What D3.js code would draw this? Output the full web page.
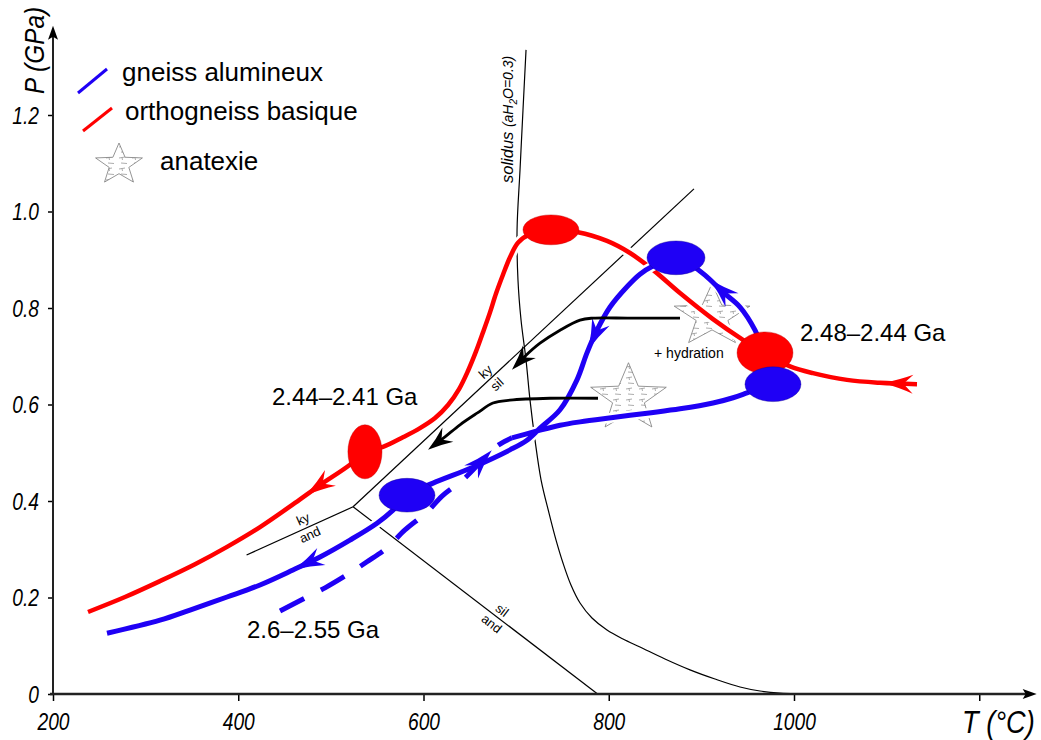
<!DOCTYPE html>
<html><head><meta charset="utf-8">
<script src="https://cdn.jsdelivr.net/npm/d3@7"></script>
<style>
body{margin:0;background:#fff;}
svg{display:block;font-family:"Liberation Sans",Arial,sans-serif;}
</style></head><body>
<svg id="chart" width="1041" height="740"></svg>
<script>
// ---------- data ----------
const xTicks = [200, 400, 600, 800, 1000, 1200];
const xTickLabels = ["200", "400", "600", "800", "1000", ""];
const yTicks = [0, 0.2, 0.4, 0.6, 0.8, 1.0, 1.2];
const yTickLabels = ["0", "0.2", "0.4", "0.6", "0.8", "1.0", "1.2"];
const tMax = 1262, pMax = 1.385;

// solidus (aH2O = 0.3)
const solidus = [[710.7,1.335],[707.4,1.210],[704.2,1.086],[701.0,0.962],[702.0,0.858],[705.3,0.775],
  [710.7,0.692],[715.0,0.609],[720.4,0.526],[726.9,0.444],[735.5,0.375],[743.1,0.319],[750.6,0.2715],
  [759.2,0.2259],[769.0,0.1886],[781.9,0.1575],[798.1,0.1326],[815.4,0.1140],[833.7,0.0974],[860.7,0.0725],
  [887.7,0.050],[914.7,0.031],[941.7,0.0145],[963.3,0.0062],[984.9,0.0021],[1028,0]];

// Al2SiO5 reactions from the triple point
const kySil = [[524,0.388],[892,1.047]];
const kyAnd = [[409,0.288],[524,0.388]];
const silAnd = [[524,0.388],[788,0]];

// orthogneiss basique (red) P-T path, in travel order
const redPath = [[1132.8,0.642],[1092.8,0.645],[1057.2,0.651],[1020.5,0.665],[995.7,0.679],[968.7,0.706],
  [944.9,0.734],[912.5,0.777],[876.9,0.831],[847.8,0.879],[823.0,0.914],[798.1,0.939],[766.8,0.957],
  [737.6,0.961],[715.0,0.953],[702.0,0.935],[693.4,0.905],[685.8,0.869],[678.3,0.830],[671.8,0.791],
  [664.3,0.750],[656.7,0.710],[648.1,0.670],[638.4,0.632],[626.5,0.599],[612.5,0.572],[596.2,0.551],
  [577.8,0.532],[556.3,0.512],[536.8,0.502],[520.6,0.475],[488.3,0.433],[461.3,0.396],[423.5,0.346],
  [387.9,0.305],[353.3,0.269],[315.5,0.234],[277.7,0.201],[237.8,0.170]];
const redArrowTips = [[1096,0.645],[474,0.41]];

// gneiss alumineux (blue): early dashed segment, then solid path
const blueDashed = [[445.1,0.172],[472.1,0.199],[493.7,0.220],[517.4,0.247],[539.0,0.274],[560.6,0.303],
  [580.0,0.340],[603.8,0.377],[620.0,0.410],[642.6,0.444],[658.8,0.475],[671.8,0.502],[682.6,0.518],[695.5,0.531]];
const blueSolid = [[695.5,0.531],[722.5,0.545],[747.4,0.557],[769.0,0.564],[804.6,0.573],[841.4,0.582],
  [877.0,0.591],[912.6,0.603],[934.2,0.614],[949.3,0.624],[965.4,0.635],[977.3,0.642],[971.9,0.676],
  [965.4,0.717],[957.9,0.754],[941.7,0.802],[923.3,0.833],[903.9,0.868],[887.7,0.891],[872.6,0.904],
  [847.8,0.887],[833.7,0.870],[819.7,0.844],[801.4,0.802],[787.3,0.754],[776.5,0.707],[765.7,0.651],
  [747.4,0.589],[725.8,0.551],[711.7,0.526],[693.4,0.506],[653.4,0.470],[610.3,0.437],[582.2,0.412],
  [567.1,0.381],[549.8,0.354],[520.6,0.319],[488.3,0.284],[459.1,0.257],[423.5,0.226],[387.9,0.201],
  [347.9,0.174],[315.5,0.153],[258.3,0.126]];
const blueDashedArrowTips = [[671.8,0.51]];
const blueArrowTips = [[909,0.858],[779.8,0.713],[459.1,0.263]];

// P-T estimates (centre T, centre P, half-width T, half-width P)
const redEllipses = [[737.6,0.962,30.2,0.031],[968.7,0.707,30.2,0.0435],[536.8,0.502,18.4,0.056]];
const blueEllipses = [[872.6,0.904,31.3,0.035],[977.3,0.642,30.2,0.036],[582.2,0.412,30.2,0.035]];

// retrograde hydration arrows (black)
const hydrArrow1 = [[876.9,0.779],[822.9,0.779],[783.0,0.779],[769.0,0.775],[747.4,0.754],[725.8,0.727],[709.6,0.700],[695.5,0.672]];
const hydrArrow2 = [[788.4,0.613],[736.6,0.613],[693.4,0.609],[675.0,0.603],[657.8,0.582],[639.4,0.558],[623.2,0.533],[604.9,0.506]];

// anatexis stars (centre T, P)
const stars = [[911.5,0.783],[821.3,0.613]];

// labels
const ageLabels = [["2.48–2.44 Ga",1006.5,0.7316],["2.44–2.41 Ga",436.4,0.599],["2.6–2.55 Ga",409.4,0.116]];
const hydrationLabel = ["+ hydration",848.9,0.696];
const solidusLabelPos = [702.0,1.059];
const legendItems = ["gneiss alumineux","orthogneiss basique","anatexie"];

// ---------- drawing ----------
const RED = "#ff0000", BLUE = "#1f00f5";
const svg = d3.select("#chart");
const x = d3.scaleLinear().domain([200,1000]).range([53,794]);
const y = d3.scaleLinear().domain([0,1.2]).range([694,115]);
const line = d3.line().x(d=>x(d[0])).y(d=>y(d[1])).curve(d3.curveCatmullRom.alpha(0.5));
const straight = d3.line().x(d=>x(d[0])).y(d=>y(d[1]));

// hatch pattern for stars
const defs = svg.append("defs");
const pat = defs.append("pattern").attr("id","hatch").attr("patternUnits","userSpaceOnUse")
  .attr("width",13).attr("height",11);
pat.append("path").attr("d","M2,4 L8,3 M5,3.5 L5.5,6 M4,9 L10,9.5").attr("stroke","#8a8a8a").attr("stroke-width",0.7).attr("fill","none");

function starPath(cx, cy, R, sx) {
  const pts = [];
  for (let i=0;i<10;i++){
    const r = i%2===0 ? R : R*0.42;
    const a = -Math.PI/2 + i*Math.PI/5;
    pts.push([cx + sx*r*Math.cos(a), cy + r*Math.sin(a)]);
  }
  return "M" + pts.map(p=>p.join(",")).join("L") + "Z";
}

// stars (behind)
const gStars = svg.append("g");
stars.forEach((s,i)=>{
  gStars.append("path").attr("d", starPath(x(s[0]), y(s[1]), i===0?32.6:35.5, i===0?1.22:1.12))
    .attr("fill","url(#hatch)").attr("stroke","#7a7a7a").attr("stroke-width",0.8);
});

// thin reaction lines
const gThin = svg.append("g").attr("fill","none").attr("stroke","#000").attr("stroke-width",1.2);
[kySil,kyAnd,silAnd].forEach(l=>gThin.append("path").attr("d",straight(l)));
gThin.append("path").attr("d",line(solidus)).attr("stroke-width",1.2);

// mineral labels along the lines
function labelAlong(l, frac, above, below, dUp, dDown) {
  const x0=x(l[0][0]), y0=y(l[0][1]), x1=x(l[1][0]), y1=y(l[1][1]);
  let ang = Math.atan2(y1-y0, x1-x0)*180/Math.PI;
  if (ang>90) ang-=180; if (ang<-90) ang+=180;
  const px = x0+(x1-x0)*frac, py=y0+(y1-y0)*frac;
  const g = svg.append("g").attr("transform",`translate(${px},${py}) rotate(${ang})`)
    .attr("font-size",13).attr("text-anchor","middle");
  g.append("text").attr("y",-dUp).text(above);
  g.append("text").attr("y",dDown).text(below);
}
labelAlong(kySil,0.405,"ky","sil",4,13);
labelAlong(kyAnd,0.566,"ky","and",5,12);
labelAlong(silAnd,0.588,"sil","and",4,13);

// solidus label
const sl = svg.append("text").attr("transform",`translate(${x(solidusLabelPos[0])-5},${y(solidusLabelPos[1])}) rotate(-90)`)
  .attr("font-style","italic").attr("font-size",16.5);
sl.append("tspan").text("solidus ");
sl.append("tspan").attr("font-size",14).text("(aH");
sl.append("tspan").attr("font-size",10).attr("dy",4).text("2");
sl.append("tspan").attr("font-size",14).attr("dy",-4).text("O=0.3)");

// red path with white casing
const gPaths = svg.append("g").attr("fill","none");
gPaths.append("path").attr("d",line(redPath)).attr("stroke","#fff").attr("stroke-width",10);
const redNode = gPaths.append("path").attr("d",line(redPath)).attr("stroke",RED).attr("stroke-width",4.5).node();
// blue
gPaths.append("path").attr("d",line(blueSolid)).attr("stroke","#fff").attr("stroke-width",10);
gPaths.append("path").attr("d",line(blueDashed)).attr("stroke","#fff").attr("stroke-width",10).attr("stroke-dasharray","27 19");
const blueNode = gPaths.append("path").attr("d",line(blueSolid)).attr("stroke",BLUE).attr("stroke-width",5).node();
const blueDNode = gPaths.append("path").attr("d",line(blueDashed)).attr("stroke",BLUE).attr("stroke-width",5)
  .attr("stroke-dasharray","27 19").node();

function headAt(node, s, L, W, color, g) {
  const p = node.getPointAtLength(s);
  const a = node.getPointAtLength(Math.max(0, s - L*0.8));
  let dx=p.x-a.x, dy=p.y-a.y; const m=Math.hypot(dx,dy)||1; dx/=m; dy/=m;
  const nx=-dy, ny=dx;
  const bx=p.x-L*dx, by=p.y-L*dy;
  const c=0.21;
  const d = `M${p.x},${p.y} Q${p.x-0.55*L*dx+c*W*nx},${p.y-0.55*L*dy+c*W*ny} ${bx+W/2*nx},${by+W/2*ny}`+
    ` L${p.x-0.68*L*dx},${p.y-0.68*L*dy} L${bx-W/2*nx},${by-W/2*ny}`+
    ` Q${p.x-0.55*L*dx-c*W*nx},${p.y-0.55*L*dy-c*W*ny} ${p.x},${p.y}Z`;
  g.append("path").attr("d",d).attr("fill",color);
}
function headNear(node, tipData, L, W, color, g) {
  const tx=x(tipData[0]), ty=y(tipData[1]);
  const len=node.getTotalLength(); let best=0, bd=Infinity;
  for (let s=0;s<=len;s+=0.5){const p=node.getPointAtLength(s);const d=(p.x-tx)**2+(p.y-ty)**2;if(d<bd){bd=d;best=s;}}
  headAt(node,best,L,W,color,g);
}
const gHeads = svg.append("g");
redArrowTips.forEach(t=>headNear(redNode,t,30,19,RED,gHeads));
blueArrowTips.forEach(t=>headNear(blueNode,t,30,19,BLUE,gHeads));
blueDashedArrowTips.forEach(t=>headNear(blueDNode,t,30,19,BLUE,gHeads));

// ellipses
const gEll = svg.append("g");
redEllipses.forEach(e=>gEll.append("ellipse").attr("cx",x(e[0])).attr("cy",y(e[1]))
  .attr("rx",x(e[0]+e[2])-x(e[0])).attr("ry",y(0)-y(e[3])).attr("fill",RED).attr("stroke","#b00").attr("stroke-width",0.4));
blueEllipses.forEach(e=>gEll.append("ellipse").attr("cx",x(e[0])).attr("cy",y(e[1]))
  .attr("rx",x(e[0]+e[2])-x(e[0])).attr("ry",y(0)-y(e[3])).attr("fill",BLUE).attr("stroke","#10008a").attr("stroke-width",0.4));

// black hydration arrows
const gBlack = svg.append("g");
[hydrArrow1,hydrArrow2].forEach(a=>{
  const p = gBlack.append("path").attr("d",line(a)).attr("fill","none").attr("stroke","#000").attr("stroke-width",2.8);
  const n = p.node(); const len=n.getTotalLength();
  p.attr("stroke-dasharray",`${len-12} ${len}`);
  headAt(n,len,25,18,"#000",gBlack);
});

// text labels
ageLabels.forEach(l=>svg.append("text").attr("x",x(l[1])).attr("y",y(l[2])).attr("font-size",24).text(l[0]));
svg.append("text").attr("x",x(hydrationLabel[1])).attr("y",y(hydrationLabel[2])).attr("font-size",14).text(hydrationLabel[0]);

// legend
const gLeg = svg.append("g");
gLeg.append("line").attr("x1",78).attr("y1",93).attr("x2",107).attr("y2",69).attr("stroke",BLUE).attr("stroke-width",3);
gLeg.append("line").attr("x1",83).attr("y1",131).attr("x2",112).attr("y2",108).attr("stroke",RED).attr("stroke-width",3);
gLeg.append("path").attr("d",starPath(119,164.6,21.6,1.14)).attr("fill","url(#hatch)").attr("stroke","#7a7a7a").attr("stroke-width",0.8);
gLeg.append("text").attr("x",122).attr("y",81).attr("font-size",26).text(legendItems[0]);
gLeg.append("text").attr("x",125).attr("y",120).attr("font-size",26).text(legendItems[1]);
gLeg.append("text").attr("x",160).attr("y",170).attr("font-size",26).text(legendItems[2]);

// axes
const gAx = svg.append("g");
const xAxis = d3.axisBottom(x).tickValues(xTicks).tickSize(7).tickFormat((d,i)=>xTickLabels[i]);
const xg = gAx.append("g").attr("transform",`translate(0,${y(0)})`).call(xAxis);
xg.select(".domain").remove();
xg.selectAll(".tick line").attr("stroke","#000").attr("stroke-width",1.5);
xg.selectAll(".tick text").attr("font-size",24).attr("font-style","italic").attr("fill","#000")
  .attr("font-family","Liberation Sans, Arial, sans-serif")
  .attr("y",0).attr("dy",0).attr("transform","translate(0,36) scale(0.8,1)");
const yAxis = d3.axisLeft(y).tickValues(yTicks).tickSize(5).tickFormat((d,i)=>yTickLabels[i]);
const yg = gAx.append("g").attr("transform",`translate(${x(200)},0)`).call(yAxis);
yg.select(".domain").remove();
yg.selectAll(".tick line").attr("stroke","#000").attr("stroke-width",1.5);
yg.selectAll(".tick text").attr("font-size",24).attr("font-style","italic").attr("fill","#000")
  .attr("font-family","Liberation Sans, Arial, sans-serif")
  .attr("x",0).attr("dy",0).attr("transform","translate(-14,8) scale(0.8,1)");
// axis lines with arrows
gAx.append("line").attr("x1",x(200)-3).attr("y1",y(0)).attr("x2",x(tMax)-8).attr("y2",y(0)).attr("stroke","#222").attr("stroke-width",2.6);
gAx.append("path").attr("d",`M${x(tMax)},${y(0)} L${x(tMax)-14},${y(0)-5} L${x(tMax)-11},${y(0)} L${x(tMax)-14},${y(0)+5}Z`).attr("fill","#000");
gAx.append("line").attr("x1",x(200)).attr("y1",y(0)+1).attr("x2",x(200)).attr("y2",y(pMax)+8).attr("stroke","#222").attr("stroke-width",2);
gAx.append("path").attr("d",`M${x(200)},${y(pMax)} L${x(200)-5},${y(pMax)+14} L${x(200)},${y(pMax)+11} L${x(200)+5},${y(pMax)+14}Z`).attr("fill","#000");

// axis titles
const pt = svg.append("text").attr("transform","translate(44,94) rotate(-90) scale(0.87,1)")
  .attr("font-size",28).attr("font-style","italic");
pt.append("tspan").text("P (GPa)");
svg.append("text").attr("transform","translate(962,733) scale(0.85,1)").attr("font-size",32).attr("font-style","italic").text("T (°C)");
</script>
</body></html>
